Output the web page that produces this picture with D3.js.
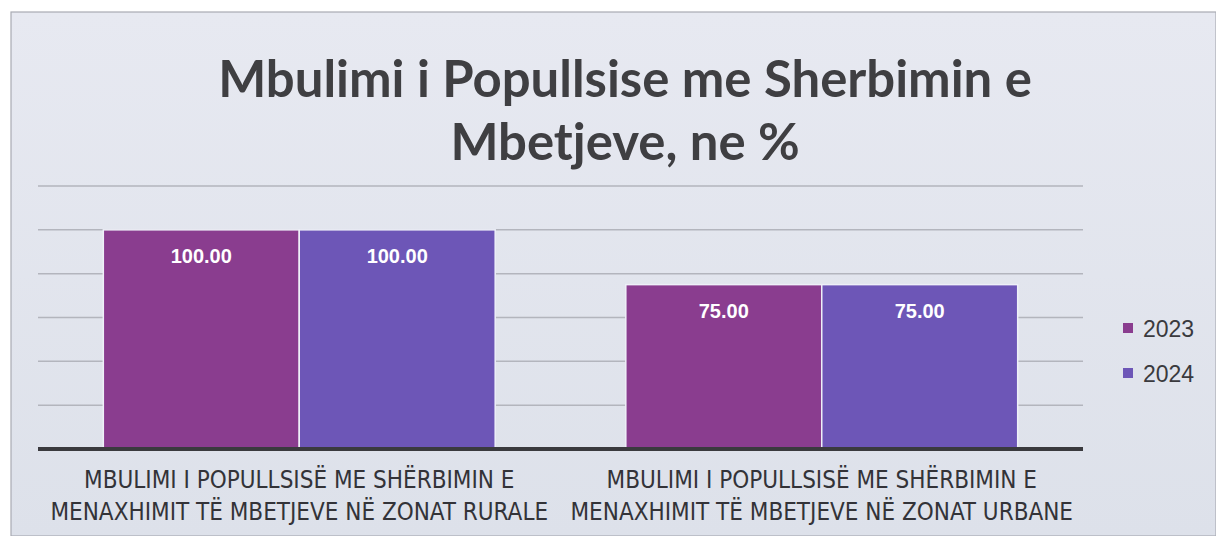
<!DOCTYPE html>
<html>
<head>
<meta charset="utf-8">
<script src="https://cdn.jsdelivr.net/npm/d3@7"></script>
<style>
  body { margin: 0; background: #ffffff; }
  svg { display: block; }
</style>
</head>
<body>
<svg id="chart"></svg>
<script>
const categories = [
    ["MBULIMI I POPULLSISË ME SHËRBIMIN E", "MENAXHIMIT TË MBETJEVE NË ZONAT RURALE"],
    ["MBULIMI I POPULLSISË ME SHËRBIMIN E", "MENAXHIMIT TË MBETJEVE NË ZONAT URBANE"]
];
const years = ["2023", "2024"];
const values2023 = [100, 75];
const values2024 = [100, 75];
const gridTicks = [0, 20, 40, 60, 80, 100, 120];
const titleLines = ["Mbulimi i Popullsise me Sherbimin e", "Mbetjeve, ne %"];

const colors = {"2023": "#8a3d8f", "2024": "#6d56b7"};
const seriesValues = {"2023": values2023, "2024": values2024};

function create_chart() {
    let width = 1216;
    let height = 536;

    let svg = d3.select("#chart")
        .attr("width", width)
        .attr("height", height);

    // background panel
    let defs = svg.append("defs");
    let grad = defs.append("linearGradient")
        .attr("id", "bg")
        .attr("x1", 0).attr("y1", 0)
        .attr("x2", 0).attr("y2", 1);
    grad.append("stop").attr("offset", "0%").attr("stop-color", "#e7e9f1");
    grad.append("stop").attr("offset", "100%").attr("stop-color", "#dde1ea");

    svg.append("rect")
        .attr("x", 11)
        .attr("y", 12)
        .attr("width", width - 11)
        .attr("height", height - 12)
        .attr("fill", "url(#bg)")
        .attr("stroke", "#a9abb3")
        .attr("stroke-width", 1.2);

    let left = 38, right = 1083, top = 186, bottom = 449;

    let x0 = d3.scaleBand()
        .domain(d3.range(categories.length))
        .range([left, right])
        .paddingInner(0.25)
        .paddingOuter(0.125);

    let x1 = d3.scaleBand()
        .domain(years)
        .range([0, x0.bandwidth()]);

    let y = d3.scaleLinear()
        .domain([0, 120])
        .range([bottom, top]);

    // gridlines
    svg.append("g")
        .attr("class", "grid")
        .selectAll("line")
        .data(gridTicks.slice(1))
        .enter().append("line")
        .attr("x1", left)
        .attr("x2", right)
        .attr("y1", function (d) { return y(d); })
        .attr("y2", function (d) { return y(d); })
        .attr("stroke", "#b3b5bd")
        .attr("stroke-width", 1.5);

    // bars
    let groups = svg.append("g")
        .attr("class", "bars")
        .selectAll("g")
        .data(d3.range(categories.length))
        .enter().append("g")
        .attr("transform", function (i) { return "translate(" + x0(i) + ",0)"; });

    let bars = groups.selectAll("g")
        .data(function (i) {
            return years.map(function (yr) { return {year: yr, value: seriesValues[yr][i]}; });
        })
        .enter().append("g");

    bars.append("rect")
        .attr("x", function (d) { return x1(d.year); })
        .attr("y", function (d) { return y(d.value); })
        .attr("width", x1.bandwidth())
        .attr("height", function (d) { return y(0) - y(d.value); })
        .attr("fill", function (d) { return colors[d.year]; })
        .attr("stroke", "#eef0f8")
        .attr("stroke-width", 1.5);

    bars.append("text")
        .text(function (d) { return d3.format(".2f")(d.value); })
        .attr("x", function (d) { return x1(d.year) + x1.bandwidth() / 2; })
        .attr("y", function (d) { return y(d.value) + 33; })
        .attr("text-anchor", "middle")
        .attr("fill", "#ffffff")
        .style("font-family", "'Liberation Sans', Arial, sans-serif")
        .style("font-weight", "bold")
        .style("font-size", "20px");

    // baseline axis
    svg.append("line")
        .attr("x1", left)
        .attr("x2", right)
        .attr("y1", y(0))
        .attr("y2", y(0))
        .attr("stroke", "#3a3a3e")
        .attr("stroke-width", 4);

    // category labels
    let labels = svg.append("g")
        .attr("class", "cat-labels")
        .selectAll("text")
        .data(categories)
        .enter().append("text")
        .attr("text-anchor", "middle")
        .attr("fill", "#333338")
        .style("font-family", "'DejaVu Sans Condensed', 'DejaVu Sans', sans-serif")
        .style("font-size", "24px");

    labels.selectAll("tspan")
        .data(function (d) { return d; })
        .enter().append("tspan")
        .attr("x", function (d, i, nodes) {
            let idx = categories.indexOf(d3.select(nodes[i].parentNode).datum());
            return x0(idx) + x0.bandwidth() / 2;
        })
        .attr("y", function (d, i) { return 488 + i * 32; })
        .text(function (d) { return d; });

    // title, sized so the first line spans the same width as the original
    let title = svg.append("g")
        .attr("class", "title")
        .selectAll("text")
        .data(titleLines)
        .enter().append("text")
        .attr("x", 625)
        .attr("y", function (d, i) { return 97 + i * 63; })
        .attr("text-anchor", "middle")
        .attr("fill", "#3f3f42")
        .style("font-family", "Lato, 'DejaVu Sans', sans-serif")
        .style("font-weight", "bold")
        .style("font-size", "46px")
        .text(function (d) { return d; });

    let firstLen = title.node().getComputedTextLength();
    if (firstLen > 0) {
        title.style("font-size", (46 * 814 / firstLen) + "px");
    }

    // legend
    let legend = svg.append("g")
        .attr("class", "legend")
        .selectAll("g")
        .data(years)
        .enter().append("g")
        .attr("transform", function (d, i) { return "translate(1123," + (323 + i * 45) + ")"; });

    legend.append("rect")
        .attr("width", 10)
        .attr("height", 10)
        .attr("fill", function (d) { return colors[d]; });

    legend.append("text")
        .attr("x", 20)
        .attr("y", 14)
        .attr("fill", "#3a3a3e")
        .style("font-family", "'Liberation Sans', Arial, sans-serif")
        .style("font-size", "23px")
        .text(function (d) { return d; });
}

create_chart();
</script>
</body>
</html>
